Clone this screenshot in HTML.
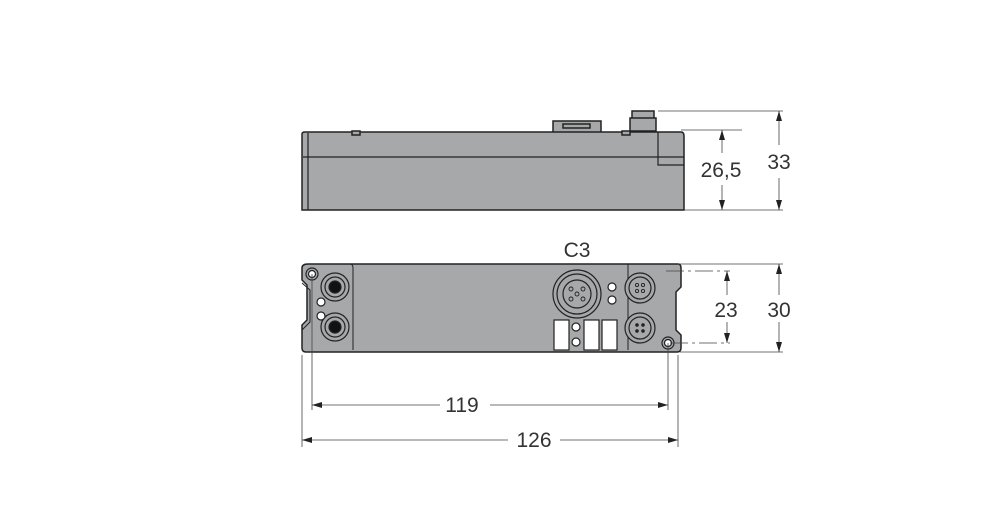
<!DOCTYPE html>
<html><head><style>body{margin:0;background:#fff}svg{display:block}text{font-family:"Liberation Sans",sans-serif;fill:#333}</style></head><body>
<svg width="999" height="513" viewBox="0 0 999 513" xmlns="http://www.w3.org/2000/svg">
<defs><marker id="a" viewBox="0 0 10 6" refX="10" refY="3" markerWidth="10" markerHeight="6" orient="auto-start-reverse" markerUnits="userSpaceOnUse"><path d="M0,0L10,3L0,6z" fill="#222"/></marker></defs>
<!-- side view -->
<g stroke="#222" stroke-width="1.5" fill="#a7a8aa">
<rect x="553" y="121" width="48" height="12"/>
<rect x="563" y="124" width="27" height="4"/>
<rect x="632" y="111" width="22" height="8"/>
<rect x="630" y="118" width="26" height="13"/>
<path d="M302,134 Q302,132 305,132 L681,132 Q684,132 684,136 L684,210 L302,210 Z"/>
<rect x="352" y="131" width="8" height="4"/>
<rect x="622" y="131" width="8" height="4"/>
</g>
<g stroke="#222" stroke-width="1.2" fill="none">
<line x1="308" y1="133" x2="308" y2="210"/>
<line x1="303" y1="157" x2="684" y2="157"/>
<path d="M658,132 L658,165 L684,165"/>
</g>
<g stroke="#444" stroke-width="0.8" fill="none">
<line x1="658" y1="111" x2="783" y2="111"/>
<line x1="681" y1="130" x2="742" y2="130"/>
<line x1="684" y1="210" x2="783" y2="210"/>
<line x1="722" y1="153" x2="722" y2="130" marker-end="url(#a)"/>
<line x1="722" y1="185" x2="722" y2="210" marker-end="url(#a)"/>
<line x1="779" y1="145" x2="779" y2="111" marker-end="url(#a)"/>
<line x1="779" y1="178" x2="779" y2="210" marker-end="url(#a)"/>
</g>
<text x="721" y="177" font-size="21" text-anchor="middle">26,5</text>
<text x="779" y="169" font-size="21" text-anchor="middle">33</text>
<!-- front view -->
<text x="577" y="257" font-size="21" text-anchor="middle">C3</text>
<path d="M308,264 L678,264 Q681,264 681,268 L681,287 L676,292 L676,330 L681,335 L681,348 Q681,352 677,352 L306,352 Q302,352 302,348 L302,325 L307,320 L307,285 L302,280 L302,268 Q302,264 308,264 Z" fill="#a7a8aa" stroke="#222" stroke-width="1.5"/>
<g stroke="#222" stroke-width="1" fill="none">
<path d="M321,264 L350,264 Q353,264 353,268 L353,350"/>
<path d="M628,264 L628,350"/>
<path d="M302,283 L310,290 L310,322 L302,330"/>
</g>
<g stroke="#222" stroke-width="1.2">
<circle cx="312" cy="274" r="6" fill="#a7a8aa"/><circle cx="312" cy="274" r="3.5" fill="#fff"/>
<circle cx="668" cy="343" r="6" fill="#a7a8aa"/><circle cx="668" cy="343" r="3.5" fill="#fff"/>
<circle cx="335" cy="287" r="14" fill="#a7a8aa"/><circle cx="335" cy="287" r="10" fill="#a7a8aa"/><circle cx="335" cy="287" r="6" fill="#111"/>
<circle cx="335" cy="327" r="14" fill="#a7a8aa"/><circle cx="335" cy="327" r="10" fill="#a7a8aa"/><circle cx="335" cy="327" r="6" fill="#111"/>
<circle cx="321" cy="302" r="4" fill="#fff"/><circle cx="321" cy="316" r="4" fill="#fff"/>
<circle cx="577" cy="294" r="24" fill="#a7a8aa"/><circle cx="577" cy="294" r="20" fill="#a7a8aa"/><circle cx="577" cy="294" r="14" fill="#a7a8aa"/>
<g fill="#a7a8aa" stroke-width="0.9"><circle cx="577" cy="294" r="2"/><circle cx="571" cy="289" r="2"/><circle cx="583" cy="289" r="2"/><circle cx="571" cy="299" r="2"/><circle cx="583" cy="299" r="2"/></g>
<circle cx="612" cy="287" r="4" fill="#fff"/><circle cx="612" cy="300" r="4" fill="#fff"/>
<circle cx="640" cy="288" r="15" fill="#a7a8aa"/><circle cx="640" cy="288" r="11" fill="#a7a8aa"/>
<g fill="#a7a8aa" stroke-width="0.9"><circle cx="637" cy="285" r="1.6"/><circle cx="643" cy="285" r="1.6"/><circle cx="637" cy="291" r="1.6"/><circle cx="643" cy="291" r="1.6"/></g>
<circle cx="640" cy="328" r="15" fill="#a7a8aa"/><circle cx="640" cy="328" r="11" fill="#a7a8aa"/>
<g fill="#222" stroke-width="0.5"><circle cx="637" cy="325" r="1.6"/><circle cx="643" cy="325" r="1.6"/><circle cx="637" cy="331" r="1.6"/><circle cx="643" cy="331" r="1.6"/></g>
<rect x="554" y="320" width="15" height="30" fill="#fff"/>
<rect x="584" y="320" width="15" height="30" fill="#fff"/>
<rect x="602" y="320" width="15" height="30" fill="#fff"/>
<circle cx="576" cy="327" r="4" fill="#fff"/><circle cx="576" cy="342" r="4" fill="#fff"/>
</g>
<g stroke="#444" stroke-width="0.8" fill="none">
<line x1="678" y1="264" x2="783" y2="264"/>
<line x1="680" y1="352" x2="783" y2="352"/>
<line x1="666" y1="271" x2="730" y2="271" stroke-dasharray="18,4,3,4"/>
<line x1="670" y1="343" x2="730" y2="343" stroke-dasharray="18,4,3,4"/>
<line x1="727" y1="295" x2="727" y2="271" marker-end="url(#a)"/>
<line x1="727" y1="322" x2="727" y2="343" marker-end="url(#a)"/>
<line x1="779" y1="295" x2="779" y2="264" marker-end="url(#a)"/>
<line x1="779" y1="322" x2="779" y2="352" marker-end="url(#a)"/>
<line x1="302" y1="355" x2="302" y2="447"/>
<line x1="678" y1="355" x2="678" y2="447"/>
<line x1="312" y1="274" x2="312" y2="410"/>
<line x1="668" y1="343" x2="668" y2="410"/>
<line x1="440" y1="405" x2="312" y2="405" marker-end="url(#a)"/>
<line x1="490" y1="405" x2="668" y2="405" marker-end="url(#a)"/>
<line x1="508" y1="440" x2="302" y2="440" marker-end="url(#a)"/>
<line x1="560" y1="440" x2="678" y2="440" marker-end="url(#a)"/>
</g>
<text x="726" y="317" font-size="21" text-anchor="middle">23</text>
<text x="779" y="317" font-size="21" text-anchor="middle">30</text>
<text x="462" y="412" font-size="21" text-anchor="middle">119</text>
<text x="534" y="447" font-size="21" text-anchor="middle">126</text>
</svg>
</body></html>
